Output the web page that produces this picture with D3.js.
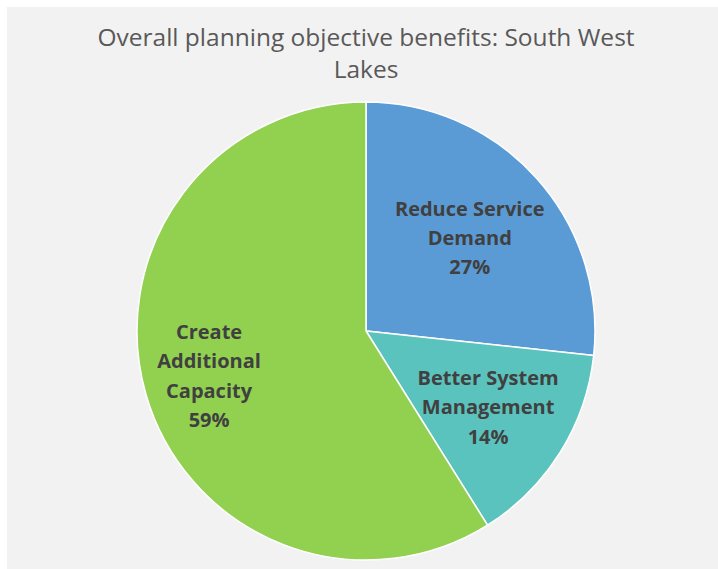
<!DOCTYPE html>
<html>
<head>
<meta charset="utf-8">
<script src="https://cdn.jsdelivr.net/npm/d3@7"></script>
<style>
    body { margin: 0; background: #fff; }
    svg { display: block; }
    text { font-family: "Open Sans", "Noto Sans", sans-serif; }
</style>
</head>
<body>
<svg id="chart" width="718" height="569"></svg>
<script>
const titleLines = ['Overall planning objective benefits: South West', 'Lakes']
const categories = ['Reduce Service Demand', 'Better System Management', 'Create Additional Capacity']
const values = [26.7, 14.4, 58.9]
const labelLines = [['Reduce Service', 'Demand'], ['Better System', 'Management'], ['Create', 'Additional', 'Capacity']]
const colors = ['#5b9bd5', '#5bc3bd', '#92d050']

const W = 718, H = 569
const cx = 366, cy = 331, R = 229

const svg = d3.select('#chart')

svg.append('rect')
    .attr('x', 7).attr('y', 7)
    .attr('width', W - 7).attr('height', H - 7)
    .attr('fill', '#f2f2f2')

svg.append('text')
    .attr('text-anchor', 'middle')
    .attr('fill', '#595959')
    .style('font-size', '24.5px')
    .selectAll('tspan')
    .data(titleLines)
    .join('tspan')
        .attr('x', cx)
        .attr('y', (d, i) => 46 + i * 32)
        .text(d => d)

const pie = d3.pie().sort(null).value(d => d)
const arcs = pie(values)
const arc = d3.arc().innerRadius(0).outerRadius(R)

const g = svg.append('g').attr('transform', `translate(${cx},${cy})`)

g.selectAll('path')
    .data(arcs)
    .join('path')
        .attr('d', arc)
        .attr('fill', (d, i) => colors[i])
        .attr('stroke', '#fff')
        .attr('stroke-width', 1.5)

// label centres sit on each slice's bisector
const labelRadius = [0.609, 0.629, 0.713]
const lineH = 29.3

arcs.forEach((a, i) => {
    const mid = (a.startAngle + a.endAngle) / 2
    const r = R * labelRadius[i]
    const x = r * Math.sin(mid)
    const y = -r * Math.cos(mid)
    const lines = labelLines[i].concat([Math.round(values[i]) + '%'])
    const top = y - (lines.length - 1) * lineH / 2
    g.append('text')
        .attr('text-anchor', 'middle')
        .attr('fill', '#404040')
        .style('font-size', '20px')
        .style('font-weight', 'bold')
        .attr('aria-label', categories[i])
        .selectAll('tspan')
        .data(lines)
        .join('tspan')
            .attr('x', x)
            .attr('y', (d, j) => top + j * lineH)
            .attr('dy', '0.35em')
            .text(d => d)
})
</script>
</body>
</html>
